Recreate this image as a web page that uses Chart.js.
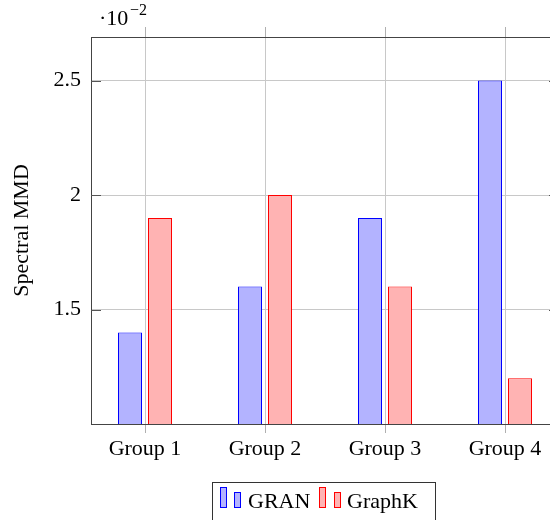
<!DOCTYPE html>
<html><head><meta charset="utf-8">
<script src="https://cdn.jsdelivr.net/npm/chart.js@4/dist/chart.umd.min.js"></script>
<style>
html,body{margin:0;padding:0;width:550px;height:520px;overflow:hidden;background:#fff;}
#wrap{position:relative;width:550px;height:520px;overflow:hidden;}
#c{position:absolute;left:0;top:0;width:560px;height:520px;}
.t{position:absolute;font-family:"Liberation Serif","DejaVu Serif",serif;color:#000;white-space:nowrap;}
.ic{position:absolute;box-sizing:border-box;border:1px solid;}
</style></head><body>
<div id="wrap">
<canvas id="c" width="560" height="520"></canvas>
<div class="t" style="left:99px;top:6.6px;font-size:22px;line-height:22px;">·10</div>
<div class="t" style="left:130px;top:2px;font-size:16px;line-height:16px;">−2</div>
<div id="legend" style="position:absolute;left:212px;top:482px;width:224px;height:60px;box-sizing:border-box;border:1px solid #333;"></div>
<div class="ic" style="left:220px;top:487px;width:7px;height:21px;background:rgb(179,179,255);border-color:#0000ff;"></div>
<div class="ic" style="left:234px;top:492px;width:7px;height:16px;background:rgb(179,179,255);border-color:#0000ff;"></div>
<div class="t" id="lg1" style="left:248px;top:489.6px;font-size:22px;line-height:22px;"></div>
<div class="ic" style="left:319px;top:487px;width:7px;height:21px;background:rgb(255,179,179);border-color:#ff0000;"></div>
<div class="ic" style="left:334px;top:492px;width:7px;height:16px;background:rgb(255,179,179);border-color:#ff0000;"></div>
<div class="t" id="lg2" style="left:347px;top:489.6px;font-size:22px;line-height:22px;"></div>
</div>
<script>
const categories = ['Group 1', 'Group 2', 'Group 3', 'Group 4'];
const seriesNames = ['GRAN', 'GraphK'];
const granValues = [1.4, 1.6, 1.9, 2.5];
const graphkValues = [1.9, 2.0, 1.6, 1.2];
const yTickValues = [1.5, 2, 2.5];
const Y_MIN = 1.0, Y_MAX = 2.69;

document.getElementById('lg1').textContent = seriesNames[0];
document.getElementById('lg2').textContent = seriesNames[1];

const FONT = '"Liberation Serif", "DejaVu Serif", serif';

const framePlugin = {
  id: 'frame',
  afterDraw(chart) {
    const ctx = chart.ctx, a = chart.chartArea;
    const ys = chart.scales.y, xs = chart.scales.x;
    ctx.save();
    ctx.strokeStyle = '#b0b0b0';
    ctx.lineWidth = 1;
    xs.ticks.forEach(t => {
      const px = Math.round(xs.getPixelForValue(t.value)) + 0.5;
      ctx.beginPath(); ctx.moveTo(px, a.top - 10); ctx.lineTo(px, a.top); ctx.stroke();
    });
    ctx.strokeStyle = '#555';
    ys.ticks.forEach(t => {
      const py = Math.round(ys.getPixelForValue(t.value)) + 0.5;
      ctx.beginPath(); ctx.moveTo(a.left, py); ctx.lineTo(a.left + 10, py); ctx.stroke();
      ctx.beginPath(); ctx.moveTo(a.right - 10, py); ctx.lineTo(a.right, py); ctx.stroke();
    });
    ctx.strokeStyle = '#444';
    ctx.beginPath();
    ctx.moveTo(a.left, Math.round(a.top) + 0.5); ctx.lineTo(a.right, Math.round(a.top) + 0.5);
    ctx.moveTo(Math.round(a.right) - 0.5, a.top); ctx.lineTo(Math.round(a.right) - 0.5, a.bottom);
    ctx.stroke();
    ctx.restore();
  }
};

new Chart(document.getElementById('c'), {
  type: 'bar',
  data: {
    datasets: [
      {
        label: seriesNames[0],
        data: categories.map((c, i) => ({ x: i + 1, y: granValues[i] })),
        backgroundColor: 'rgb(179,179,255)',
        borderColor: '#0000ff',
        borderWidth: 1,
        base: Y_MIN,
        categoryPercentage: 0.5,
        barPercentage: 0.8
      },
      {
        label: seriesNames[1],
        data: categories.map((c, i) => ({ x: i + 1, y: graphkValues[i] })),
        backgroundColor: 'rgb(255,179,179)',
        borderColor: '#ff0000',
        borderWidth: 1,
        base: Y_MIN,
        categoryPercentage: 0.5,
        barPercentage: 0.8
      }
    ]
  },
  options: {
    responsive: false,
    animation: false,
    devicePixelRatio: 1,
    layout: { padding: { top: 37, right: 1, left: 0, bottom: 0 } },
    plugins: { legend: { display: false }, tooltip: { enabled: false } },
    scales: {
      x: {
        type: 'linear',
        offset: false,
        min: 0.55, max: 4.45,
        afterBuildTicks: s => { s.ticks = categories.map((c, i) => ({ value: i + 1 })); },
        afterFit: s => { s.height = 96; },
        ticks: {
          callback: (v, i) => categories[i],
          font: { family: FONT, size: 22 },
          color: '#000',
          padding: 3,
          maxRotation: 0, autoSkip: false
        },
        grid: { offset: false, color: '#c8c8c8', tickColor: '#b0b0b0', tickLength: 9, drawTicks: true },
        border: { display: true, color: '#444', width: 1 }
      },
      y: {
        type: 'linear',
        min: Y_MIN, max: Y_MAX,
        afterBuildTicks: s => { s.ticks = yTickValues.map(v => ({ value: v })); },
        afterFit: s => { s.width = 91; },
        ticks: {
          callback: v => String(v),
          font: { family: FONT, size: 22 },
          color: '#000',
          padding: 10
        },
        grid: { color: '#c8c8c8', drawTicks: false },
        border: { display: true, color: '#444', width: 1 },
        title: {
          display: true,
          text: 'Spectral MMD',
          font: { family: FONT, size: 22 },
          color: '#000',
          padding: { top: 9, bottom: 0 }
        }
      }
    }
  },
  plugins: [framePlugin]
});
</script>
</body></html>
